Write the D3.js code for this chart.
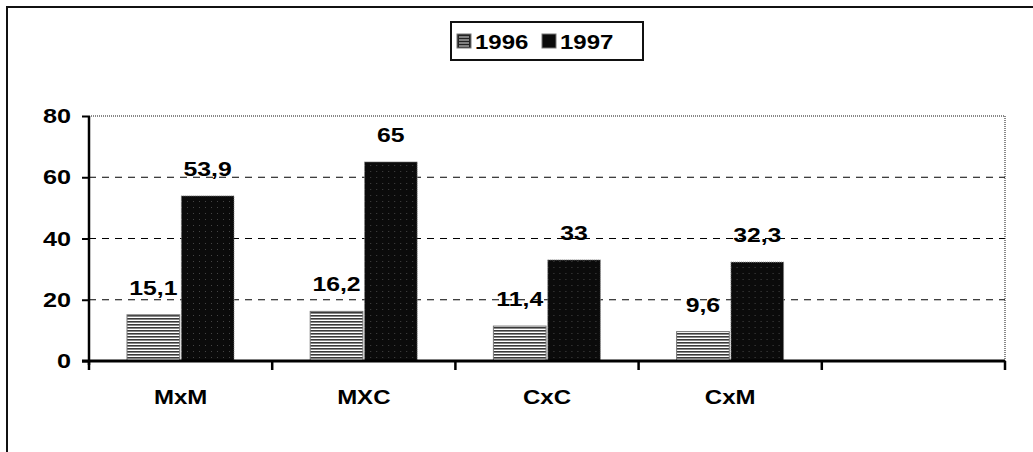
<!DOCTYPE html>
<html>
<head>
<meta charset="utf-8">
<script src="https://cdn.jsdelivr.net/npm/d3@7"></script>
<style>
  body { margin: 0; background: #fff; }
  text { font-family: "Liberation Sans", Arial, sans-serif; font-weight: bold; fill: #000; }
</style>
</head>
<body>
<div id="chart-area"></div>
<script>
// data
var categories = ["MxM", "MXC", "CxC", "CxM", ""];
var seriesNames = ["1996", "1997"];
var values1996 = [15.1, 16.2, 11.4, 9.6];
var values1997 = [53.9, 65, 33, 32.3];
var labels1996 = ["15,1", "16,2", "11,4", "9,6"];
var labels1997 = ["53,9", "65", "33", "32,3"];
var yTicks = [0, 20, 40, 60, 80];

var W = 1033, H = 452;
var plot = { left: 89, right: 1005, top: 116, bottom: 361 };

var svg = d3.select("#chart-area").append("svg")
    .attr("width", W).attr("height", H);

var defs = svg.append("defs");

// horizontal stripes for 1996
var p1 = defs.append("pattern")
    .attr("id", "stripes").attr("patternUnits", "userSpaceOnUse")
    .attr("width", 4).attr("height", 3);
p1.append("rect").attr("width", 4).attr("height", 3).attr("fill", "#fff");
p1.append("rect").attr("width", 4).attr("height", 1.6).attr("fill", "#3a3a3a");

// speckled black for 1997
var p2 = defs.append("pattern")
    .attr("id", "dark").attr("patternUnits", "userSpaceOnUse")
    .attr("width", 6).attr("height", 6);
p2.append("rect").attr("width", 6).attr("height", 6).attr("fill", "#0b0b0b");
p2.append("rect").attr("x", 2).attr("y", 3).attr("width", 1).attr("height", 1).attr("fill", "#444");

// the scan is wider than the font: stretch text horizontally
function stretch(sel, k) {
    sel.each(function(){
        var len = this.getComputedTextLength();
        if (len > 0) {
            d3.select(this).attr("textLength", len * k).attr("lengthAdjust", "spacingAndGlyphs");
        }
    });
}

// outer frame
svg.append("path")
    .attr("d", "M7," + H + " V7 H" + W)
    .attr("fill", "none").attr("stroke", "#111").attr("stroke-width", 2);

// scales
var x = d3.scaleBand().domain(categories).range([plot.left, plot.right]).padding(0);
var xInner = d3.scaleBand().domain(seriesNames)
    .range([38, 145]).paddingInner(0.03);
var y = d3.scaleLinear().domain([0, 80]).range([plot.bottom, plot.top]);

// plot frame (top and right, grey dotted)
svg.append("path")
    .attr("d", "M" + plot.left + "," + plot.top + " H" + plot.right + " V" + plot.bottom)
    .attr("fill", "none").attr("stroke", "#888").attr("stroke-width", 2)
    .attr("stroke-dasharray", "1,1");

// gridlines
svg.append("g").selectAll("line")
    .data(yTicks.filter(function(d){ return d > 0 && d < 80; }))
    .enter().append("line")
    .attr("x1", plot.left).attr("x2", plot.right)
    .attr("y1", function(d){ return y(d); })
    .attr("y2", function(d){ return y(d); })
    .attr("stroke", "#000").attr("stroke-width", 1)
    .attr("stroke-dasharray", "7,6");

// bars
var groups = svg.append("g").selectAll("g")
    .data(categories.slice(0, 4))
    .enter().append("g")
    .attr("transform", function(d){ return "translate(" + x(d) + ",0)"; });

groups.append("rect")
    .attr("x", xInner("1996"))
    .attr("width", xInner.bandwidth())
    .attr("y", function(d, i){ return y(values1996[i]); })
    .attr("height", function(d, i){ return y(0) - y(values1996[i]); })
    .attr("fill", "url(#stripes)")
    .attr("stroke", "#777").attr("stroke-width", 1);

groups.append("rect")
    .attr("x", xInner("1997"))
    .attr("width", xInner.bandwidth())
    .attr("y", function(d, i){ return y(values1997[i]); })
    .attr("height", function(d, i){ return y(0) - y(values1997[i]); })
    .attr("fill", "url(#dark)")
    .attr("stroke", "#888").attr("stroke-width", 1)
    .attr("stroke-dasharray", "1,1");

// value labels
groups.append("text")
    .attr("class", "val")
    .attr("x", xInner("1996") + xInner.bandwidth() / 2)
    .attr("y", function(d, i){ return y(values1996[i]) - 20; })
    .attr("text-anchor", "middle").attr("font-size", "21px")
    .text(function(d, i){ return labels1996[i]; });

groups.append("text")
    .attr("class", "val")
    .attr("x", xInner("1997") + xInner.bandwidth() / 2)
    .attr("y", function(d, i){ return y(values1997[i]) - 20; })
    .attr("text-anchor", "middle").attr("font-size", "21px")
    .text(function(d, i){ return labels1997[i]; });
stretch(svg.selectAll("text.val"), 1.18);

// Y axis
var yAxisCall = d3.axisLeft(y).tickValues(yTicks).tickSize(7).tickPadding(11);
var yAxis = svg.append("g")
    .attr("transform", "translate(" + plot.left + ",0)")
    .call(yAxisCall);
yAxis.select(".domain").attr("stroke", "#000").attr("stroke-width", 2.5)
    .attr("d", "M0," + (plot.top) + "V" + (plot.bottom + 4));
yAxis.selectAll(".tick line").attr("stroke", "#000").attr("stroke-width", 2);
yAxis.selectAll(".tick text").attr("font-size", "21px")
    .attr("font-family", "Liberation Sans, Arial, sans-serif").attr("font-weight", "bold")
    .attr("fill", "#000");
stretch(yAxis.selectAll(".tick text"), 1.2);

// X axis: labels at band centres, ticks at band edges
var xAxisCall = d3.axisBottom(x).tickSize(0).tickPadding(29);
var xAxis = svg.append("g")
    .attr("transform", "translate(0," + plot.bottom + ")")
    .call(xAxisCall);
xAxis.select(".domain").attr("stroke", "#000").attr("stroke-width", 3)
    .attr("d", "M" + (plot.left - 7) + ",0H" + plot.right);
xAxis.selectAll(".tick text").attr("font-size", "20px")
    .attr("font-family", "Liberation Sans, Arial, sans-serif").attr("font-weight", "bold")
    .attr("fill", "#000");
stretch(xAxis.selectAll(".tick text"), 1.2);

var edges = categories.map(function(d){ return x(d); }).concat([x.range()[1]]);
xAxis.selectAll(".edge").data(edges).enter().append("line")
    .attr("class", "edge")
    .attr("x1", function(d){ return d; }).attr("x2", function(d){ return d; })
    .attr("y1", 0).attr("y2", 9)
    .attr("stroke", "#000").attr("stroke-width", 2.5);

// legend
var legend = svg.append("g").attr("transform", "translate(451,22)");
legend.append("rect")
    .attr("width", 192).attr("height", 38)
    .attr("fill", "#fff").attr("stroke", "#111").attr("stroke-width", 2);
var items = legend.selectAll(".item").data(seriesNames).enter().append("g")
    .attr("transform", function(d, i){ return "translate(" + (6 + i * 85) + ",12)"; });
items.append("rect").attr("width", 14).attr("height", 14)
    .attr("fill", function(d, i){ return i === 0 ? "#222" : "#0b0b0b"; })
    .attr("stroke", "#777").attr("stroke-width", 1);
items.filter(function(d, i){ return i === 0; }).selectAll(".ln")
    .data([3, 6, 9, 12]).enter().append("line")
    .attr("x1", 2).attr("x2", 12)
    .attr("y1", function(d){ return d; }).attr("y2", function(d){ return d; })
    .attr("stroke", "#ddd").attr("stroke-width", 1);
items.append("text").attr("class", "leg").attr("x", 18).attr("y", 15)
    .attr("font-size", "20px")
    .text(function(d){ return d; });
stretch(legend.selectAll("text.leg"), 1.2);
</script>
</body>
</html>
